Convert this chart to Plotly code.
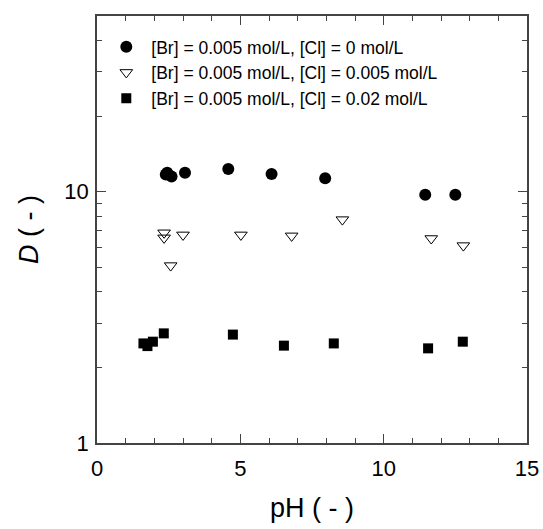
import plotly.graph_objects as go

# pH and distribution ratio D for three chloride levels ([Br] fixed at 0.005 mol/L)
ph_cl0 = [2.40, 2.45, 2.60, 3.07, 4.58, 6.09, 7.96, 11.45, 12.50]
d_cl0 = [11.7, 11.9, 11.5, 11.9, 12.3, 11.75, 11.3, 9.73, 9.73]

ph_cl005 = [2.34, 2.34, 2.57, 3.00, 5.02, 6.79, 8.56, 11.66, 12.78]
d_cl005 = [6.86, 6.55, 5.08, 6.73, 6.73, 6.67, 7.74, 6.51, 6.10]

ph_cl02 = [1.62, 1.76, 1.95, 2.33, 4.74, 6.52, 8.26, 11.55, 12.76]
d_cl02 = [2.49, 2.43, 2.53, 2.73, 2.70, 2.44, 2.49, 2.38, 2.53]

labels = [
    "[Br] = 0.005 mol/L, [Cl] = 0 mol/L",
    "[Br] = 0.005 mol/L, [Cl] = 0.005 mol/L",
    "[Br] = 0.005 mol/L, [Cl] = 0.02 mol/L",
]

x_major = [0, 5, 10, 15]
x_minor = list(range(0, 16))
y_major = [1, 10]
y_minor = [2, 3, 4, 5, 6, 7, 8, 9, 20, 30, 40]

FONT = "Liberation Sans, Arial, sans-serif"
AXIS_COLOR = "#444444"

fig = go.Figure()
fig.add_trace(go.Scatter(
    x=ph_cl0, y=d_cl0, mode="markers", name=labels[0],
    marker=dict(symbol="circle", size=12, color="black", line=dict(width=0)),
))
fig.add_trace(go.Scatter(
    x=ph_cl005, y=d_cl005, mode="markers", name=labels[1],
    marker=dict(symbol="triangle-down-open", size=11, color="black", line=dict(width=1)),
))
fig.add_trace(go.Scatter(
    x=ph_cl02, y=d_cl02, mode="markers", name=labels[2],
    marker=dict(symbol="square", size=10, color="black", line=dict(width=0)),
))

axis_common = dict(
    showline=True, linecolor=AXIS_COLOR, linewidth=1.5, mirror="allticks",
    ticks="inside", ticklen=9, tickwidth=1, tickcolor=AXIS_COLOR,
    showgrid=False, zeroline=False, automargin=False,
    tickfont=dict(family=FONT, size=22, color="black"),
)

fig.update_xaxes(
    range=[0, 15], tickvals=x_major, ticktext=[str(v) for v in x_major],
    minor=dict(tickvals=x_minor, ticks="inside", ticklen=5, tickcolor=AXIS_COLOR),
    ticklabelstandoff=5,
    title=dict(text="pH ( - )", font=dict(family=FONT, size=27, color="black"), standoff=18),
    **axis_common,
)
fig.update_yaxes(
    type="log", range=[0, 1.69897], tickvals=y_major, ticktext=["1", "10"],
    minor=dict(tickvals=y_minor, ticks="inside", ticklen=5, tickcolor=AXIS_COLOR),
    ticklabelstandoff=2,
    title=dict(text="<i>D</i> ( - )", font=dict(family=FONT, size=27, color="black"), standoff=18),
    **axis_common,
)

fig.update_layout(
    width=543, height=529,
    margin=dict(l=97, r=16, t=16, b=86),
    paper_bgcolor="white", plot_bgcolor="white",
    showlegend=True,
    legend=dict(
        x=0.01, y=0.97, xanchor="left", yanchor="top",
        font=dict(family=FONT, size=17.5, color="black"),
        bgcolor="rgba(0,0,0,0)",
        itemwidth=40,
    ),
)

fig.write_html("out.html")
